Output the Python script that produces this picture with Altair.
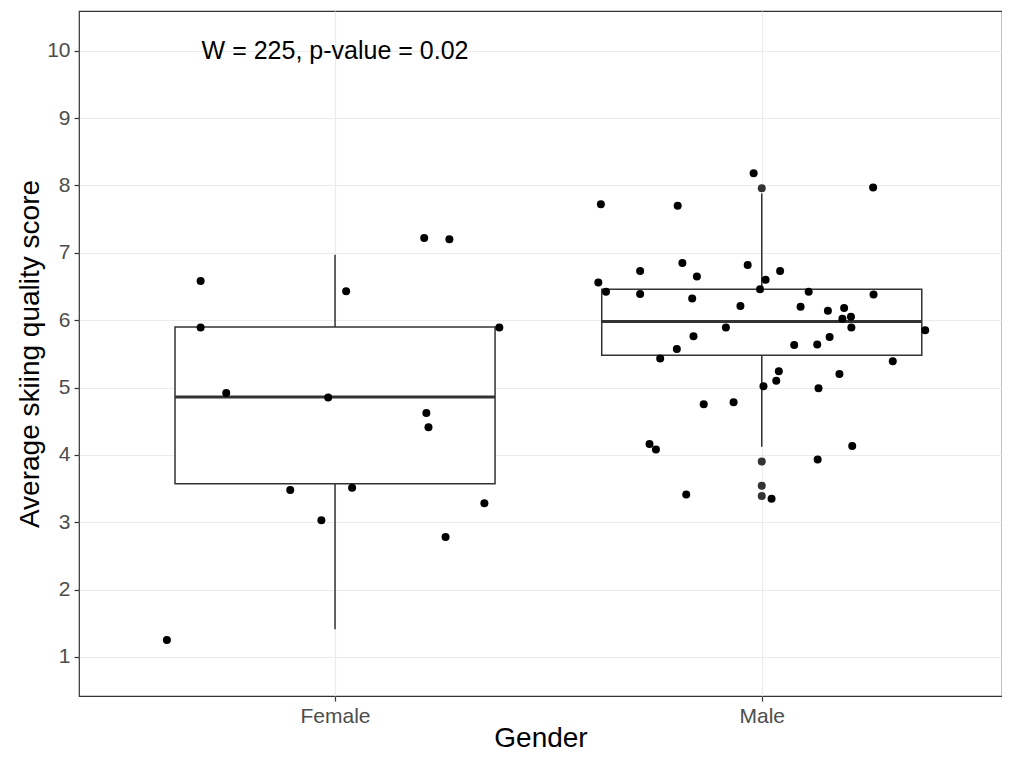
import altair as alt
import pandas as pd

# ---- data ----
groups = ["Female", "Male"]
group_pos = [1, 2]

# box statistics per group: lower whisker, Q1, median, Q3, upper whisker
whisker_low = [1.41, 4.12]
q1 = [3.57, 5.48]
median = [4.86, 5.98]
q3 = [5.90, 6.46]
whisker_high = [6.97, 7.88]

# boxplot outliers (Male)
outlier_group = ["Male", "Male", "Male", "Male"]
outlier_value = [7.96, 3.90, 3.54, 3.39]

# jittered points: group, horizontal jitter offset, score
female_offset = [-0.394, -0.315, -0.315, -0.255, -0.105, -0.032, 0.026, -0.016,
                 0.040, 0.209, 0.268, 0.214, 0.219, 0.259, 0.350, 0.385]
female_score = [1.25, 6.58, 5.89, 4.92, 3.48, 3.03, 6.43, 4.85,
                3.51, 7.22, 7.20, 4.62, 4.41, 2.78, 3.28, 5.89]

male_offset = [-0.019, -0.377, -0.197, 0.261, -0.186, -0.033, -0.285, -0.152,
               0.043, -0.383, 0.009, -0.365, -0.285, -0.004, -0.163, -0.050,
               0.110, 0.262, 0.091, 0.155, 0.193, 0.189, 0.209, 0.210,
               0.383, 0.159, -0.084, -0.160, -0.199, -0.238, 0.076, 0.130,
               0.307, 0.040, 0.034, 0.004, 0.182, 0.133, -0.136, -0.066,
               -0.263, -0.248, 0.212, 0.131, -0.177, 0.023]
male_score = [8.18, 7.72, 7.70, 7.97, 6.85, 6.82, 6.73, 6.65,
              6.73, 6.56, 6.60, 6.42, 6.39, 6.46, 6.32, 6.21,
              6.42, 6.38, 6.20, 6.14, 6.18, 6.02, 6.05, 5.89,
              5.85, 5.75, 5.89, 5.76, 5.57, 5.43, 5.63, 5.64,
              5.39, 5.24, 5.10, 5.02, 5.20, 4.99, 4.75, 4.78,
              4.16, 4.08, 4.13, 3.93, 3.41, 3.35]

annotation_text = "W = 225, p-value = 0.02"
annotation_pos = [1, 10]

box_half = 0.375
FONT = "Liberation Sans"

# ---- tables ----
pos_map = dict(zip(groups, group_pos))
box_df = pd.DataFrame({
    "group": groups,
    "pos": group_pos,
    "left": [p - box_half for p in group_pos],
    "right": [p + box_half for p in group_pos],
    "low": whisker_low, "q1": q1, "median": median, "q3": q3, "high": whisker_high,
})
out_df = pd.DataFrame({
    "pos": [pos_map[g] for g in outlier_group],
    "score": outlier_value,
})
pts_df = pd.DataFrame({
    "x": [1 + o for o in female_offset] + [2 + o for o in male_offset],
    "score": female_score + male_score,
})
ann_df = pd.DataFrame({"x": [annotation_pos[0]], "y": [annotation_pos[1]], "t": [annotation_text]})

xscale = alt.Scale(domain=[0.4, 2.563], nice=False, zero=False)
yscale = alt.Scale(domain=[0.42, 10.59], nice=False, zero=False)

xaxis = alt.Axis(
    values=group_pos,
    labelExpr="datum.value == 1 ? 'Female' : 'Male'",
    title="Gender",
    titleY=50, titleBaseline="alphabetic",
)
yaxis = alt.Axis(
    values=list(range(1, 11)),
    format="d",
    title="Average skiing quality score",
    titleX=-49, titleY=342.5, titleBaseline="middle", titleAngle=-90,
)

base_box = alt.Chart(box_df)

whisk_up = base_box.mark_rule(color="#333333", strokeWidth=1.5).encode(
    x=alt.X("pos:Q", scale=xscale, axis=xaxis),
    y=alt.Y("q3:Q", scale=yscale, axis=yaxis),
    y2="high:Q",
)
whisk_lo = base_box.mark_rule(color="#333333", strokeWidth=1.5).encode(
    x="pos:Q", y="low:Q", y2="q1:Q",
)
box = base_box.mark_rect(fill="white", stroke="#333333", strokeWidth=1.5).encode(
    x="left:Q", x2="right:Q", y="q1:Q", y2="q3:Q",
)
med = base_box.mark_rule(color="#333333", strokeWidth=3).encode(
    x="left:Q", x2="right:Q", y="median:Q",
)
outliers = alt.Chart(out_df).mark_circle(color="#333333", opacity=1, size=64).encode(
    x="pos:Q", y="score:Q",
)
points = alt.Chart(pts_df).mark_circle(color="black", opacity=1, size=64).encode(
    x="x:Q", y="score:Q",
)
ann = alt.Chart(ann_df).mark_text(
    font=FONT, fontSize=25, color="black", align="center", baseline="middle"
).encode(x="x:Q", y="y:Q", text="t:N")

chart = (
    alt.layer(whisk_up, whisk_lo, box, med, outliers, points, ann)
    .properties(
        width=923, height=685,
        autosize=alt.AutoSizeParams(type="none"),
        padding={"left": 71, "top": 3, "right": 0, "bottom": 56},
        background="white",
    )
    .configure_view(stroke="#333333", strokeWidth=1.2)
    .configure_axis(
        domain=False,
        grid=True, gridColor="#EBEBEB", gridWidth=1.2,
        ticks=True, tickColor="#333333", tickSize=5, tickWidth=1.2,
        labelFont=FONT, labelFontSize=21, labelColor="#4D4D4D", labelPadding=4,
        titleFont=FONT, titleFontSize=28, titleFontWeight="normal", titleColor="black",
    )
)

chart.save("out.html", embed_options={"renderer": "svg", "actions": False})
